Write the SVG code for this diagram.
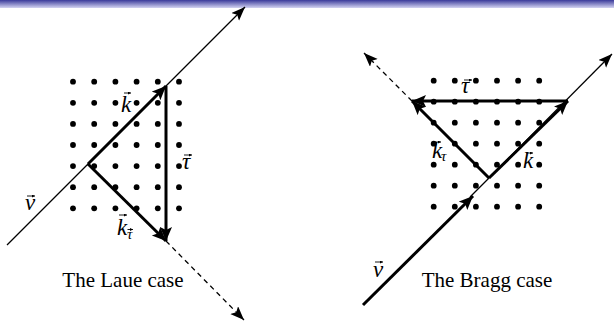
<svg xmlns="http://www.w3.org/2000/svg" width="614" height="323" viewBox="0 0 614 323">
<style>
.thin{stroke:#000;stroke-width:1.3;fill:none}
.thick{stroke:#000;stroke-width:3;fill:none}
.dash{stroke:#000;stroke-width:1.3;fill:none;stroke-dasharray:5,4}
.dot{fill:#000}
.lbl{font-family:"Liberation Serif",serif;font-style:italic;font-size:23px;fill:#000}
.sub{font-family:"Liberation Serif",serif;font-style:italic;font-size:15px;fill:#000}
.cap{font-family:"Liberation Serif",serif;font-size:21px;fill:#000;text-anchor:middle}
.acc{stroke:#000;stroke-width:0.9;fill:none}
</style>
<defs>
<linearGradient id="bar" x1="0" y1="0" x2="0" y2="1">
<stop offset="0" stop-color="#3a3a9a"/>
<stop offset="1" stop-color="#d4d4f2"/>
</linearGradient>
<marker id="ah" markerUnits="userSpaceOnUse" markerWidth="15" markerHeight="12" refX="14" refY="5.5" orient="auto">
<path d="M0,0 L14,5.5 L0,11 L3,5.5 z" fill="#000"/>
</marker>
<marker id="ahb" markerUnits="userSpaceOnUse" markerWidth="16" markerHeight="14" refX="14" refY="6" orient="auto">
<path d="M0,0 L14,6 L0,12 L3,6 z" fill="#000"/>
</marker>
<marker id="acch" markerUnits="userSpaceOnUse" markerWidth="4" markerHeight="4" refX="3" refY="1.5" orient="auto">
<path d="M0,0 L3,1.5 L0,3 z" fill="#000"/>
</marker>
</defs>
<rect x="0" y="0" width="614" height="8" fill="url(#bar)"/>

<g id="laue-lattice">
<g class="dot">
<circle cx="73" cy="81.7" r="2.9"/><circle cx="94.2" cy="81.7" r="2.9"/><circle cx="115.4" cy="81.7" r="2.9"/><circle cx="136.6" cy="81.7" r="2.9"/><circle cx="157.8" cy="81.7" r="2.9"/><circle cx="179" cy="81.7" r="2.9"/>
<circle cx="73" cy="102.8" r="2.9"/><circle cx="94.2" cy="102.8" r="2.9"/><circle cx="115.4" cy="102.8" r="2.9"/><circle cx="136.6" cy="102.8" r="2.9"/><circle cx="157.8" cy="102.8" r="2.9"/><circle cx="179" cy="102.8" r="2.9"/>
<circle cx="73" cy="123.9" r="2.9"/><circle cx="94.2" cy="123.9" r="2.9"/><circle cx="115.4" cy="123.9" r="2.9"/><circle cx="136.6" cy="123.9" r="2.9"/><circle cx="157.8" cy="123.9" r="2.9"/><circle cx="179" cy="123.9" r="2.9"/>
<circle cx="73" cy="145" r="2.9"/><circle cx="94.2" cy="145" r="2.9"/><circle cx="115.4" cy="145" r="2.9"/><circle cx="136.6" cy="145" r="2.9"/><circle cx="157.8" cy="145" r="2.9"/><circle cx="179" cy="145" r="2.9"/>
<circle cx="73" cy="166.1" r="2.9"/><circle cx="94.2" cy="166.1" r="2.9"/><circle cx="115.4" cy="166.1" r="2.9"/><circle cx="136.6" cy="166.1" r="2.9"/><circle cx="157.8" cy="166.1" r="2.9"/><circle cx="179" cy="166.1" r="2.9"/>
<circle cx="73" cy="187.2" r="2.9"/><circle cx="94.2" cy="187.2" r="2.9"/><circle cx="115.4" cy="187.2" r="2.9"/><circle cx="136.6" cy="187.2" r="2.9"/><circle cx="157.8" cy="187.2" r="2.9"/><circle cx="179" cy="187.2" r="2.9"/>
<circle cx="73" cy="208.3" r="2.9"/><circle cx="94.2" cy="208.3" r="2.9"/><circle cx="115.4" cy="208.3" r="2.9"/><circle cx="136.6" cy="208.3" r="2.9"/><circle cx="157.8" cy="208.3" r="2.9"/><circle cx="179" cy="208.3" r="2.9"/>
</g>
</g>

<g id="bragg-lattice">
<g class="dot">
<circle cx="433.7" cy="80.7" r="2.9"/><circle cx="454.8" cy="80.7" r="2.9"/><circle cx="475.9" cy="80.7" r="2.9"/><circle cx="497" cy="80.7" r="2.9"/><circle cx="518.1" cy="80.7" r="2.9"/><circle cx="539.2" cy="80.7" r="2.9"/>
<circle cx="433.7" cy="101.7" r="2.9"/><circle cx="454.8" cy="101.7" r="2.9"/><circle cx="475.9" cy="101.7" r="2.9"/><circle cx="497" cy="101.7" r="2.9"/><circle cx="518.1" cy="101.7" r="2.9"/><circle cx="539.2" cy="101.7" r="2.9"/>
<circle cx="433.7" cy="122.7" r="2.9"/><circle cx="454.8" cy="122.7" r="2.9"/><circle cx="475.9" cy="122.7" r="2.9"/><circle cx="497" cy="122.7" r="2.9"/><circle cx="518.1" cy="122.7" r="2.9"/><circle cx="539.2" cy="122.7" r="2.9"/>
<circle cx="433.7" cy="143.7" r="2.9"/><circle cx="454.8" cy="143.7" r="2.9"/><circle cx="475.9" cy="143.7" r="2.9"/><circle cx="497" cy="143.7" r="2.9"/><circle cx="518.1" cy="143.7" r="2.9"/><circle cx="539.2" cy="143.7" r="2.9"/>
<circle cx="433.7" cy="164.7" r="2.9"/><circle cx="454.8" cy="164.7" r="2.9"/><circle cx="475.9" cy="164.7" r="2.9"/><circle cx="497" cy="164.7" r="2.9"/><circle cx="518.1" cy="164.7" r="2.9"/><circle cx="539.2" cy="164.7" r="2.9"/>
<circle cx="433.7" cy="185.7" r="2.9"/><circle cx="454.8" cy="185.7" r="2.9"/><circle cx="475.9" cy="185.7" r="2.9"/><circle cx="497" cy="185.7" r="2.9"/><circle cx="518.1" cy="185.7" r="2.9"/><circle cx="539.2" cy="185.7" r="2.9"/>
<circle cx="433.7" cy="206.7" r="2.9"/><circle cx="454.8" cy="206.7" r="2.9"/><circle cx="475.9" cy="206.7" r="2.9"/><circle cx="497" cy="206.7" r="2.9"/><circle cx="518.1" cy="206.7" r="2.9"/><circle cx="539.2" cy="206.7" r="2.9"/>
</g>
</g>

<g id="connectors">
<!-- Laue -->
<line class="thin" x1="7" y1="245" x2="245" y2="7" marker-end="url(#ah)"/>
<line class="thick" x1="88" y1="164" x2="166" y2="86" marker-end="url(#ahb)"/>
<line class="thick" x1="166" y1="86" x2="166" y2="241" marker-end="url(#ahb)"/>
<line class="thick" x1="88" y1="164" x2="166" y2="241" marker-end="url(#ahb)"/>
<line class="dash" x1="166" y1="241" x2="244" y2="320" marker-end="url(#ah)"/>
<!-- Bragg -->
<line class="thin" x1="489" y1="178" x2="612" y2="54" marker-end="url(#ah)"/>
<line class="thin" x1="470" y1="197" x2="489" y2="178"/>
<line class="thick" x1="363" y1="305" x2="473" y2="196" marker-end="url(#ahb)"/>
<line class="thick" x1="489" y1="178" x2="568" y2="101" marker-end="url(#ahb)"/>
<line class="thick" x1="568" y1="101" x2="412" y2="101" marker-end="url(#ahb)"/>
<line class="thick" x1="489" y1="178" x2="412" y2="101" marker-end="url(#ahb)"/>
<line class="dash" x1="412" y1="101" x2="364" y2="53" marker-end="url(#ah)"/>
</g>

<g id="laue-labels">
<g id="laue-k"><text class="lbl" x="121" y="112">k</text><line class="acc" x1="124" y1="93" x2="131" y2="93" marker-end="url(#acch)"/></g>
<g id="laue-tau"><text class="lbl" x="182" y="169">τ</text><line class="acc" x1="184" y1="155" x2="192" y2="155" marker-end="url(#acch)"/></g>
<g id="laue-v"><text class="lbl" x="25" y="210">v</text><line class="acc" x1="27" y1="196" x2="35" y2="196" marker-end="url(#acch)"/></g>
<g id="laue-ktau"><text class="lbl" x="117" y="235">k</text><line class="acc" x1="119" y1="215" x2="127" y2="215" marker-end="url(#acch)"/><text class="sub" x="127" y="239">τ</text><line class="acc" x1="127.5" y1="229.5" x2="133" y2="229.5" marker-end="url(#acch)"/></g>
<text class="cap" x="123" y="287">The Laue case</text>
</g>

<g id="bragg-labels">
<g id="bragg-tau"><text class="lbl" x="461" y="93">τ</text><line class="acc" x1="464" y1="80" x2="472" y2="80" marker-end="url(#acch)"/></g>
<g id="bragg-ktau"><text class="lbl" x="432" y="158">k</text><line class="acc" x1="434" y1="142" x2="441" y2="142" marker-end="url(#acch)"/><text class="sub" x="441" y="161">τ</text></g>
<g id="bragg-k"><text class="lbl" x="523" y="168">k</text><line class="acc" x1="526" y1="153" x2="533" y2="153" marker-end="url(#acch)"/></g>
<g id="bragg-v"><text class="lbl" x="373" y="277">v</text><line class="acc" x1="375" y1="262" x2="383" y2="262" marker-end="url(#acch)"/></g>
<text class="cap" x="487" y="287">The Bragg case</text>
</g>
</svg>
